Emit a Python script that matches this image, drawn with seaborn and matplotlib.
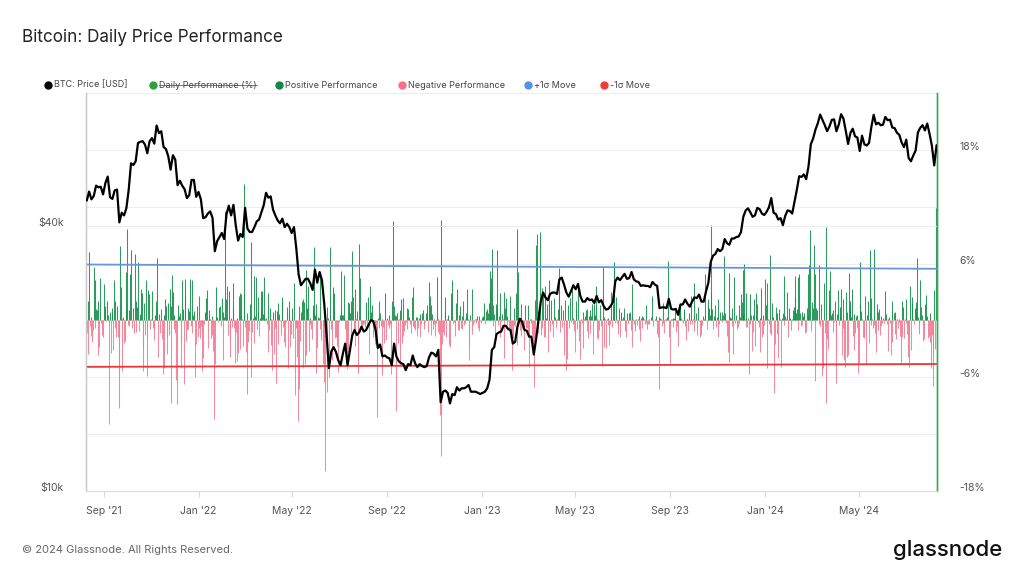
import numpy as np
import pandas as pd
import matplotlib
matplotlib.use("Agg")
import matplotlib.pyplot as plt
import matplotlib.dates as mdates
from matplotlib.lines import Line2D
from matplotlib.ticker import FixedLocator, NullLocator
from matplotlib.transforms import ScaledTranslation
import seaborn as sns

# ---------------- data ----------------
price_start = "2021-08-10"          # BTC price sampled every 3 days (USD thousands)
btc_price_2021 = [45.6, 47.8, 45.9, 46.7, 49.3, 48.9, 49.0, 47.1,
                  50.0, 51.7, 46.4, 46.0, 48.1, 48.3, 40.7, 42.8, 42.2, 43.8,
                  48.2, 55.4, 54.9, 56.0, 61.6, 62.0, 62.2, 61.1, 58.4, 62.2,
                  63.2, 61.4, 67.5, 64.9, 65.5, 60.3, 59.7, 57.5, 53.6, 57.8,
                  56.5, 49.4, 50.6, 49.3, 48.4, 46.2, 46.9, 50.8, 50.8, 46.5]
btc_price_2022 = [47.7, 45.9, 41.6, 41.8, 42.6, 43.1, 41.7, 35.0, 36.9, 37.7, 38.5,
                  37.3, 42.4, 44.4, 42.2, 44.6, 40.0, 37.0, 38.3, 37.7,
                  43.9, 39.4, 38.7, 38.7, 39.7, 40.9, 41.3, 42.9, 44.5, 47.5,
                  46.3, 46.6, 43.5, 42.2, 41.1, 40.5, 41.5, 39.7, 40.4, 39.7,
                  38.5, 39.7, 35.5, 31.0, 29.3, 29.8, 30.3, 30.3, 29.6, 28.6, 31.8,
                  29.7, 31.4, 30.1, 26.6, 22.6, 19.0, 20.7, 21.2, 20.7, 19.8,
                  19.3, 20.5, 21.6, 19.3, 20.8, 22.5, 23.2, 22.6, 22.9, 23.6,
                  23.0, 23.2, 23.8, 24.4, 24.3, 23.3, 21.1, 21.5, 20.2, 20.3,
                  20.1, 20.0, 19.3, 21.6, 20.2, 19.7, 19.5, 19.4, 18.8, 19.4,
                  19.3, 20.3, 19.5, 19.1, 19.4, 19.2, 19.1, 19.2, 20.1, 20.6, 20.5,
                  20.2, 20.9, 15.9, 16.8, 16.9, 16.7, 15.8, 16.6, 16.5, 17.2,
                  16.9, 17.1, 17.1, 17.2, 17.4, 16.8, 16.8, 16.8, 16.7, 16.6]
btc_price_2023 = [16.7, 16.8, 17.1, 17.9, 20.9, 21.2, 22.7, 22.9, 23.0, 23.7,
                  23.7, 23.3, 23.2, 21.6, 21.8, 23.6, 24.6, 24.2, 23.2, 23.1,
                  22.4, 22.4, 20.4, 22.1, 24.4, 26.9, 28.2, 27.5, 27.1, 28.0,
                  28.2, 28.2, 28.0, 30.2, 30.5, 29.4, 28.2, 27.6, 28.4, 29.3,
                  28.7, 29.5, 27.7, 26.9, 26.9, 27.4, 27.1, 27.2, 26.7, 27.7,
                  26.8, 27.1, 26.3, 25.8, 25.9, 26.3, 26.8, 29.9, 30.5, 30.1,
                  30.6, 31.1, 30.3, 30.4, 31.4, 30.2, 29.9, 29.8, 29.2, 29.3, 29.2,
                  29.2, 29.0, 29.8, 29.4, 29.2, 26.0, 26.1, 26.1, 26.0, 27.3,
                  25.9, 25.8, 25.9, 25.1, 26.5, 26.5, 27.2, 26.6, 26.2, 26.9,
                  27.5, 27.4, 27.9, 26.9, 26.9, 28.4, 29.7, 33.1, 34.2, 34.5,
                  35.4, 35.0, 35.4, 37.3, 36.5, 36.2, 37.4, 37.4, 37.7, 37.8,
                  38.7, 41.9, 43.3, 43.8, 42.9, 41.9, 42.2, 43.9, 43.6, 42.6, 42.3]
btc_price_2024 = [43.0, 44.0, 46.2, 42.8, 42.5, 41.3, 41.6, 40.1, 42.1, 43.3,
                  43.2, 42.6, 45.3, 48.3, 51.8, 51.6, 52.3, 51.0, 54.5, 61.2,
                  63.1, 66.1, 68.3, 71.5, 69.5, 67.6, 65.5, 67.2, 69.5, 69.7,
                  65.5, 67.8, 71.6, 70.0, 65.7, 61.3, 64.9, 66.4, 63.8, 63.4,
                  59.1, 64.0, 61.2, 60.8, 61.6, 67.0, 71.4, 67.9, 68.5, 67.6,
                  67.8, 70.6, 69.4, 69.6, 66.8, 66.6, 65.0, 64.3, 61.8, 60.3,
                  62.7, 57.0, 56.0, 57.7, 59.2, 65.1, 66.7, 67.6, 65.8, 68.2, 64.6,
                  60.7, 54.8, 60.9]

perf_start = "2021-08-10"           # daily performance (%)
perf_2021 = [
    -1.3, 2.0, -3.5, 7.2, -0.6, 0.4, -1.6, -2.3, -1.0, 5.6, 4.3, -0.8, 1.2, 1.1, -3.6, 2.1, -2.8, 4.5, -0.3, -0.6, -1.5, -1.7,
    3.8, 1.5, 1.2, -0.1, 2.0, 0.6, -10.9, -0.4, 0.9, -3.4, 0.8, 1.3, -3.1, 4.3, 2.1, -0.8, -1.8, 1.5, -1.8, -9.2,
    -5.4, 7.9, 3.5, -5.3, 0.1, 0.4, -2.4, -2.2, 1.2, 5.1,
    9.7, -0.5, 1.1, -0.6, 4.9, 7.4, -0.8, -0.1, 1.3, -1.3, 7.0, -1.2, 2.0, 1.4, 6.2, -1.1, 0.7, 0.3, 3.3, 2.9,
    -5.3, -3.1, 1.8, -1.5, 4.3, -2.0, -5.9, 3.2, 2.8, -0.9, -0.4,
    0.2, 3.1, -0.8, -2.1, -0.9, 0.6, 2.0, 6.6, 1.1, -3.9, 0.7, -1.3, 0.1, 1.2, -2.0, -5.7, 0.6, -5.0, 2.3, 1.5,
    -1.7, -3.5, 1.8, -1.5, 3.3, -8.7, 1.5, 4.8, 3.0, -0.9,
    0.6, -1.3, -6.3, -8.8, 0.3, 1.6, 0.5, 0.8, -5.0, -2.3, 4.3, 1.2, -6.7, 2.5, 4.4, -2.2, -1.0, 1.3, -0.9, 1.0,
    4.4, -0.6, 4.3, -1.3, 0.6, 1.0, -0.4, -6.0, -2.5, 1.5, -1.8]
perf_2022 = [
    2.6, -0.8, -1.9, -0.6, -5.3, -1.2, -4.0, -0.4, 0.9, 0.1, 2.4, 3.2, -2.9, 1.1, 0.2, 0.1, -1.9, 0.5, -1.5, -3.2,
    -10.4, -4.6, 3.5, 0.3, 0.4, -0.2, 0.3, 1.4, 1.5, -0.6, 2.4,
    0.9, -4.2, 0.4, 11.5, 0.1, 2.3, 3.6, -1.5, 3.1, -2.2, -3.9, 0.3, -0.7, 1.3, 4.0, -0.8, -4.5, -1.2, 0.3, -4.3,
    -3.4, 2.6, -3.0, 2.9, 2.8, 0.2, -2.7, 14.4,
    2.8, -0.7, -3.3, -7.8, 0.8, -2.3, -1.1, 1.7, 8.3, -6.0, -1.2, 0.3, -2.4, 4.7, 0.5, 4.6, -0.9, 2.5, 0.9, -1.6,
    0.3, 3.1, 1.1, 3.1, 0.7, 0.4, 4.6, 0.1, 0.3, -0.4, -3.3,
    2.9, -1.0, 1.3, 0.2, -2.6, -5.2, 0.9, -3.5, 1.1, -0.8, -6.6, 1.0, 1.8, -2.5, 0.7, -0.1, -1.5, 2.5, 1.9, -0.7,
    -2.3, -2.8, -0.5, -0.2, 1.4, -5.0, 2.1, 0.8, -2.8, -1.4,
    1.3, 0.3, -1.9, 3.9, -7.9, -0.8, -0.7, -3.9, -10.6, 1.5, -7.2, -2.2, 0.9, 2.1, 2.3, -5.0, 1.9, -4.6, 5.3, -3.7,
    1.3, 3.6, -3.2, 0.3, -0.4, -0.9, -2.0, 1.1, 1.6, 7.7, 0.6,
    -5.5, 1.7, -2.9, 0.4, 0.3, 5.1, -0.9, -2.1, 0.0, -4.6, -3.4, -6.5, -15.9, -0.9, 1.4, -7.5, 0.3, -6.0, 7.8, 0.2,
    -0.9, -4.2, 3.5, 2.9, 1.0, -1.9, -1.8, -2.7, -1.9, -5.4,
    -0.2, 0.6, 1.1, 5.2, 0.6, 0.6, 4.8, 0.3, -0.9, -3.0, -5.1, -3.3, 1.9, 1.8, 0.8, 2.1, -1.5, 7.3, 2.5, -1.2,
    3.3, -2.7, 0.2, 1.0, -5.6, -2.5, 8.1, 4.5, -0.6, -0.4, -0.8,
    -0.5, -0.3, -0.7, -0.6, 1.9, -0.5, 1.1, 2.5, -3.5, 3.6, 0.9, 1.6, -0.2, -1.8, -0.9, -1.1, -2.5, -1.3, -10.2, 0.3,
    2.0, -0.8, 0.8, -0.6, 0.2, -5.8, -0.7, -2.4, 2.9, -2.1, 0.0,
    0.3, -0.5, -0.8, 0.6, -0.4, -5.7, 2.1, 0.1, 10.5, 1.5, 0.6, 0.5, -9.6, 0.8, -2.4, 0.2, 1.1, -4.6, 2.3, -2.4,
    -1.6, 2.4, -1.1, -0.5, -0.2, 1.3, -0.9, 1.2, 0.4, -0.3,
    -0.4, -1.3, 2.5, 3.5, -0.6, -0.8, -1.0, 0.4, 0.4, -1.6, -0.8, 0.3, 0.7, -1.7, -0.4, 0.8, 1.1, -0.5, -0.9, -0.2,
    0.8, 0.4, 1.6, -1.2, 4.1, 2.6, -1.5, 1.6, 0.7, -0.9, -0.4,
    0.2, -1.6, -0.3, 4.6, 0.2, -1.2, -1.4, -10.0, -14.3, 10.6, -2.5, -1.2, -1.5, 2.5, 1.0, -1.8, 0.2, 0.3, 0.6, -2.6,
    -2.8, 2.9, 4.3, 0.1, -0.3, -0.2, -0.4, -1.6, 1.8, 3.3,
    -1.0, 0.6, -1.0, 1.5, -0.8, 0.5, -0.9, 2.1, -0.5, 0.2, -0.3, 0.8, 3.3, 0.2, -2.6, -4.2, 0.6, -0.1, -1.4, 3.3,
    -0.5, -0.2, 0.2, 0.1, -0.3, 0.5, -0.8, -1.1, 0.5, -0.1, -0.3]
perf_2023 = [
    0.4, 0.5, 0.1, 1.8, -0.4, 1.0, 0.1, 1.2, 0.8, 1.8, 3.1, 5.2, 4.5, 7.5, -0.6, 1.6, 0.7, -2.5, 1.7, 7.4,
    1.4, -0.5, 0.5, -1.7, 2.9, -0.2, 0.7, 0.2, 3.0, -4.0, 1.3,
    2.4, -0.5, 0.5, -0.1, -1.0, -0.8, 2.6, -1.8, -5.2, -1.9, 1.3, -0.5, -0.6, 2.9, 9.6, -2.6, 5.1, 0.1, -1.0, 1.7,
    -1.6, -0.8, -0.9, -3.1, -0.5, 1.6, -0.8, -0.8,
    1.6, -1.2, -4.9, 0.2, 0.2, -0.3, -1.5, -2.6, -7.0, -1.6, 2.2, 8.0, 9.1, 1.0, -1.3, 1.4, 9.3, -1.5, 3.4, -0.8,
    2.8, -1.7, 3.6, -1.7, 0.3, 1.7, -3.3, 1.7, 4.3, -1.1, 2.2,
    -0.3, -0.4, -1.8, 2.4, 0.4, -0.8, -0.2, 0.1, 1.2, 5.5, 4.1, -1.2, 1.6, -0.7, 0.0, 1.1, -3.6, 2.2, -5.2, -1.6,
    -4.1, 1.6, -0.3, -0.8, 2.4, -0.2, 3.2, -0.4, 0.3, -1.1,
    -3.3, 2.1, 1.2, -0.9, 3.9, -2.2, -0.7, -4.1, 0.2, -0.3, -2.9, 0.9, 0.1, 0.5, 1.1, -1.1, 1.2, -1.9, 0.5, 1.1,
    -1.3, 0.5, 1.7, -3.5, 0.4, 1.7, 0.6, 3.6, -1.9, 0.1, -2.0,
    -1.0, 1.6, -0.6, 0.2, -4.8, 5.6, -2.8, 0.4, 0.1, -2.9, 0.2, -0.5, 0.3, -2.6, -0.4, 3.0, 0.6, -0.7, 1.7, 5.5,
    6.2, -0.3, 2.5, -0.3, -0.8, -1.4, 1.3, -1.7, 0.9, 0.7,
    0.1, 0.4, 1.3, -1.1, -0.9, -1.8, 0.8, -0.3, -0.3, 0.8, 0.9, -1.0, 3.8, -2.8, 0.1, -0.4, -0.8, -1.1, 0.2, -0.5,
    0.1, -0.9, 0.5, -2.2, 0.3, 0.5, -0.8, 0.4, 0.1, -0.4, -0.3,
    1.6, -0.9, -0.4, -0.4, 0.1, 0.0, 0.4, 2.6, -0.6, -0.2, 0.0, 0.1, -0.1, 0.5, -1.4, -1.7, -7.2, 0.4, 0.3, 0.2,
    -0.6, -0.3, 1.8, -1.3, 0.1, -0.1, 0.1, 0.4, 6.3, -1.8, -4.6,
    -0.6, 0.1, 0.2, -0.7, 0.3, 0.3, 1.2, -1.2, 0.0, -0.6, -2.7, 1.6, 1.4, 1.4, 0.3, -0.1, -0.3, 1.2, 1.0, -0.6,
    -2.1, 0.2, 0.1, -1.1, 0.8, -0.4, 0.2, 2.6, -0.4, 0.2,
    4.0, -1.1, -0.2, 0.8, -1.5, 1.4, 0.0, -0.1, -1.7, -0.6, -1.5, -0.5, 0.5, 0.1, 0.6, 4.9, 0.0, -0.9, 1.6, 2.3,
    1.3, 0.6, 10.1, 3.0, 1.2, -0.9, 0.5, 0.3, 1.6, -0.7, 0.4,
    2.3, -1.7, -0.4, 0.9, 0.1, -0.2, 0.9, 0.6, 6.8, 0.8, -0.1, -0.3, -1.6, -3.3, 5.0, -4.4, 0.4, 0.3, 1.3, -0.6,
    -3.5, 4.6, -0.3, 0.6, 0.0, -0.9, -0.7, 1.6, -0.3, 0.4,
    2.8, 1.9, 0.7, 5.3, 6.0, 0.2, -0.7, 2.9, -0.7, 0.3, -5.7, -0.4, 2.8, 0.6, -3.2, 0.6, -1.2, 2.3, -2.7, 2.9,
    1.7, 0.3, -0.2, -0.7, 0.3, -3.3, 3.4, -1.7, -1.4, 0.6, -0.5]
perf_2024 = [
    4.4, 1.6, -5.0, 4.0, 0.1, -0.4, -1.3, 6.9, -1.5, 1.8, 0.4, -7.7, 0.0, -2.5, 1.4, 0.8, -1.4, -4.0, 1.2, 0.2,
    -0.3, -4.9, 0.3, 0.8, -0.5, 4.7, 0.5, 0.2, 3.0, -0.5, -1.8,
    1.3, 0.3, -0.3, -1.0, 0.1, 1.1, 1.4, 2.5, 4.7, 0.8, 1.2, 4.6, -1.0, 4.9, 0.8, -0.6, -0.5, 0.9, 0.5, 0.8,
    -1.3, -0.6, -1.2, 1.3, 0.6, 4.9, 5.9, 9.5, -1.1,
    1.9, 0.2, 1.3, 8.0, -6.4, 4.9, 1.3, 1.1, 0.0, -0.4, 5.8, -0.6, 1.7, -2.8, -5.9, -5.0, 4.0, -1.3, -8.7, 9.9,
    -2.0, -3.0, 1.5, 3.2, 5.2, 0.6, 0.8, 1.1, -1.2, -0.2, 2.0,
    -3.6, -6.6, 0.7, 3.2, -0.5, 1.4, 0.6, 3.3, -3.6, 2.3, -0.8, -4.2, -4.9, 3.0, -3.9, 0.9, -3.6, 5.0, 1.4, 2.1,
    0.4, 3.3, -1.6, -3.1, 0.7, -1.3, 0.5, -0.8, 0.6, -5.6,
    -4.5, 1.7, 6.2, 1.0, 0.1, -1.7, -1.9, -1.8, 2.6, -4.6, 0.0, 0.6, 2.0, -2.4, 7.4, -0.5, 2.4, 0.1, -0.8, 7.5,
    -0.5, -1.3, -3.3, 1.7, 0.9, -1.0, 1.2, -1.5, -0.6, 0.5, -0.3,
    0.3, -0.3, 0.3, 3.1, 0.7, -0.4, -3.2, 0.2, 0.4, -0.3, -3.6, 2.1, -2.3, -0.1, 0.8, 0.9, -1.4, -2.0, 0.2, -0.8,
    -0.2, 0.2, -1.6, -4.6, 2.1, -1.7, 1.4, -1.9, 0.2, 2.3,
    -0.3, -1.4, -3.9, -4.9, -1.6, 3.6, -3.1, 1.8, 2.5, 0.2, -0.4, 1.3, 0.9, 1.9, 6.6, 0.4, -1.4, -1.2, 4.3, 1.4,
    0.6, -0.6, -2.2, -2.0, 1.7, 2.7, 0.1, 0.5, -1.9, -1.6, -2.3,
    0.8, -5.0, -1.5, -3.7, -6.9, 3.2, -3.0, 11.9, -0.6]

sigma_dates = ["2021-08-10", "2024-08-09"]
plus_sigma = [5.9, 5.45]
minus_sigma = [-4.9, -4.6]

perf_ticks = [-18, -12, -6, 0, 6, 12, 18, 24]
perf_labels = ["-18%", "", "-6%", "", "6%", "", "18%", ""]
price_ticks = [10000, 40000]
price_labels = ["$10k", "$40k"]

legend_labels = ["BTC: Price [USD]", "Daily Performance (%)", "Positive Performance",
                 "Negative Performance", "+1σ Move", "-1σ Move"]
legend_colors = ["#000000", "#2ea043", "#11874a", "#f4708c", "#5b8fe6", "#f23c3c"]

# ---------------- build frames ----------------
price_vals = np.array(btc_price_2021 + btc_price_2022 + btc_price_2023 + btc_price_2024) * 1000
price_df = pd.DataFrame({"date": pd.date_range(price_start, periods=len(price_vals), freq="3D"),
                         "price": price_vals})
perf_vals = np.array(perf_2021 + perf_2022 + perf_2023 + perf_2024)
perf_df = pd.DataFrame({"date": pd.date_range(perf_start, periods=len(perf_vals), freq="D"),
                        "perf": perf_vals})
sig_df = pd.DataFrame({"date": pd.to_datetime(sigma_dates), "plus": plus_sigma, "minus": minus_sigma})

# ---------------- style ----------------
sns.set_theme(style="white")
plt.rcParams["font.family"] = ["Inter", "DejaVu Sans"]

W, H = 1024, 576
fig = plt.figure(figsize=(W / 100, H / 100), dpi=100)
fig.patch.set_facecolor("white")
ax = fig.add_axes([86 / W, 1 - 491 / H, (937 - 86) / W, (491 - 93) / H])

GREEN = "#18904c"
PINK = "#f27d94"

pos = perf_df[perf_df["perf"] > 0]
neg = perf_df[perf_df["perf"] <= 0]
ax.vlines(pos["date"], 0, pos["perf"], color=GREEN, linewidth=0.75, alpha=0.9, zorder=2)
ax.vlines(neg["date"], 0, neg["perf"], color=PINK, linewidth=0.75, alpha=0.9, zorder=2)
sns.lineplot(data=sig_df, x="date", y="plus", ax=ax, color="#6a95dc", linewidth=1.3, zorder=3)
sns.lineplot(data=sig_df, x="date", y="minus", ax=ax, color="#ee3535", linewidth=1.3, zorder=3)
ax.set_xlabel("")
ax.set_ylabel("")

# price axis (twin, drawn above the bars)
axp = ax.twinx()
sns.lineplot(data=price_df, x="date", y="price", ax=axp, color="black", linewidth=1.6, zorder=4)
axp.set_yscale("log")
axp.set_ylim(10000, 80000)
axp.yaxis.set_major_locator(FixedLocator(price_ticks))
axp.yaxis.set_minor_locator(NullLocator())
axp.set_yticklabels(price_labels)
axp.set_xlabel("")
axp.set_ylabel("")

# performance axis -> right side ; price axis -> left side
ax.set_ylim(-18, 24)
ax.yaxis.set_major_locator(FixedLocator(perf_ticks))
ax.set_yticklabels(perf_labels)
ax.yaxis.tick_right()
ax.tick_params(axis="y", which="both", left=False, right=False, labelleft=False, labelright=True,
               labelsize=7.5, labelcolor="#555555", pad=10)
ax.grid(axis="y", color="#eeeeee", linewidth=0.8, zorder=0)
ax.grid(axis="x", visible=False)
ax.set_axisbelow(True)

axp.yaxis.tick_left()
axp.tick_params(axis="y", which="both", left=False, right=False, labelleft=True, labelright=False,
                labelsize=7.5, labelcolor="#555555", pad=10)
axp.grid(axis="y", color="#eeeeee", linewidth=0.8)
axp.grid(axis="x", visible=False)

# y tick labels sit slightly above their grid lines
shift = ScaledTranslation(0, 4 / 100, fig.dpi_scale_trans)
for lab in ax.get_yticklabels() + axp.get_yticklabels():
    lab.set_transform(lab.get_transform() + shift)

ax.set_xlim(pd.Timestamp("2021-08-09"), pd.Timestamp("2024-08-09 14:00"))
ax.xaxis.set_major_locator(mdates.MonthLocator(bymonth=[1, 5, 9]))
ax.xaxis.set_major_formatter(mdates.DateFormatter("%b '%y"))
ax.tick_params(axis="x", bottom=True, length=4, width=0.8, color="#d8d8d8",
               labelsize=7.5, labelcolor="#555555", pad=7)

for a in (ax, axp):
    a.spines["top"].set_visible(False)
    a.spines["left"].set_color("#c8c8c8")
    a.spines["left"].set_linewidth(0.9)
    a.spines["right"].set_color("#3aa85a")
    a.spines["right"].set_linewidth(1.0)
    a.spines["bottom"].set_color("#dddddd")
    a.spines["bottom"].set_linewidth(0.8)

# ---------------- texts ----------------
fig.text(22 / W, 1 - 37 / H, "Bitcoin: Daily Price Performance", fontsize=12.3,
         color="#222222", va="center", ha="left")
fig.text(22 / W, 1 - 550 / H, "© 2024 Glassnode. All Rights Reserved.", fontsize=8,
         color="#666666", va="center", ha="left")
fig.text(1002 / W, 1 - 550 / H, "glassnode", fontsize=16, fontweight="medium",
         color="#111111", va="center", ha="right")

dot_x = [48, 153, 279, 402, 528, 604]
ly = 1 - 85 / H
texts = []
for x, lab, col in zip(dot_x, legend_labels, legend_colors):
    fig.add_artist(Line2D([x / W], [ly], marker="o", markersize=5, color=col,
                          linestyle="none", transform=fig.transFigure))
    t = fig.text((x + 6) / W, ly, lab, fontsize=6.5, color="#444444", va="center", ha="left")
    texts.append(t)

fig.canvas.draw()
bb = texts[1].get_window_extent(renderer=fig.canvas.get_renderer())
inv = fig.transFigure.inverted()
(x0, y0), (x1, y1) = inv.transform([(bb.x0, bb.y0), (bb.x1, bb.y1)])
fig.add_artist(Line2D([x0, x1], [(y0 + y1) / 2, (y0 + y1) / 2], color="#666666",
                      linewidth=0.6, transform=fig.transFigure))

fig.savefig("out.png", dpi=100)
